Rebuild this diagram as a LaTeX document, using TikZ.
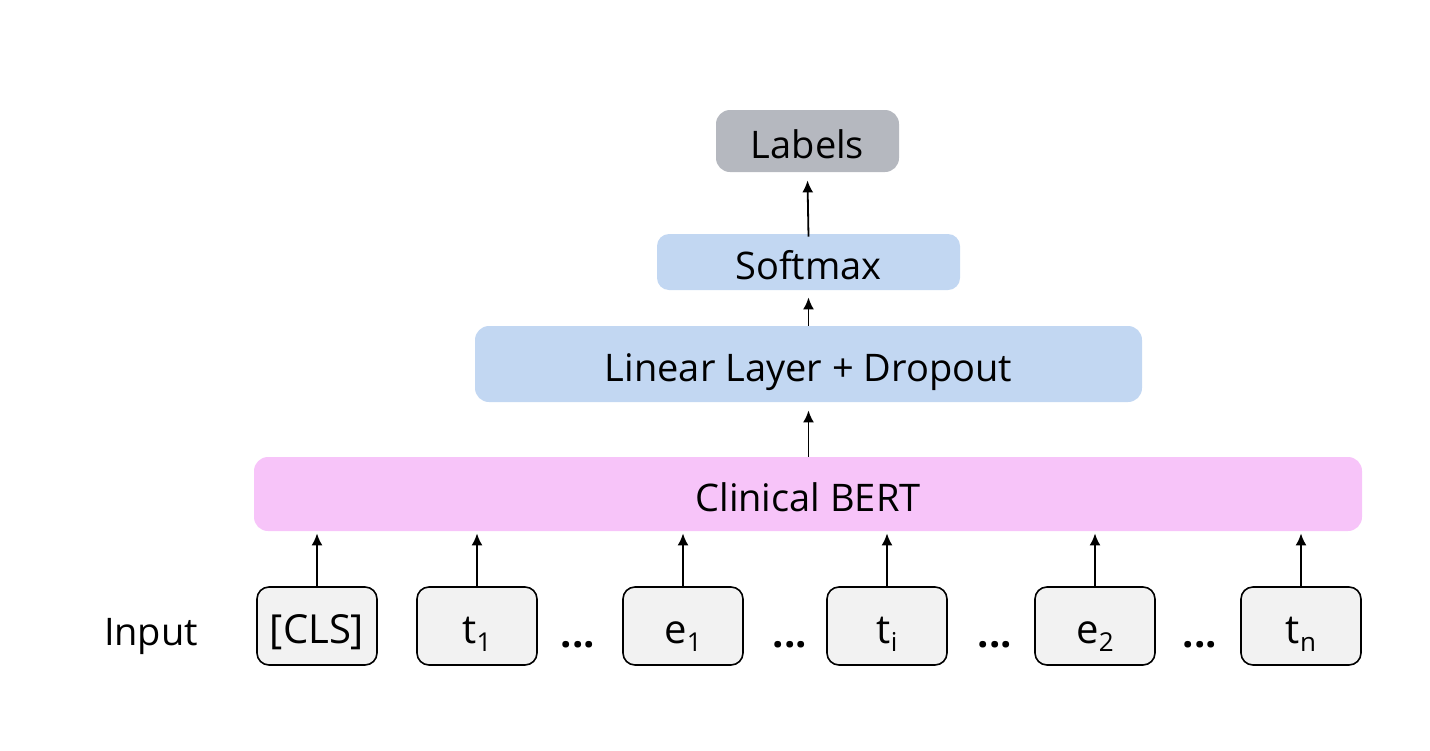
\documentclass[tikz,border=0pt]{standalone}
\usepackage{fontspec}
\setmainfont{Open Sans}
\usepackage{tikz}
\usetikzlibrary{arrows.meta}
\definecolor{labelgray}{HTML}{B5B8BF}
\definecolor{layerblue}{HTML}{C2D7F2}
\definecolor{bertpink}{HTML}{F7C4F9}
\definecolor{tokfill}{HTML}{F2F2F2}
\tikzstyle{layer} = [rounded corners=7pt,inner sep=0pt,text height=18pt,text depth=0.4pt,
    font=\fontsize{19}{23}\selectfont]
\tikzstyle{tokbox} = [layer,draw=black,line width=0.8pt,fill=tokfill,rounded corners=6pt,
    minimum width=60pt,minimum height=39pt,font=\fontsize{20}{24}\selectfont]
\tikzstyle{flow} = [-{Latex[length=6pt,width=5.5pt]},line width=0.9pt]
\newcommand{\tokdots}[2]{
    \node(#1) at (#2,645) [font=\fontsize{20}{24}\selectfont\bfseries] {...};
}
\newcommand{\toksub}[2]{#1\raisebox{-4pt}{\fontsize{13}{15}\selectfont #2}}

\begin{document}
\begin{tikzpicture}[x=0.5pt,y=-0.5pt]
    \useasboundingbox (0,0) rectangle (1430,750);

	\node(labels) at (807.5,141) [layer,fill=labelgray,minimum width=91.5pt,minimum height=31pt] {Labels};
	\node(softmax) at (808.5,262) [layer,fill=layerblue,rounded corners=6pt,minimum width=151.5pt,minimum height=28pt] {Softmax};
	\node(linear) at (808.5,364) [layer,fill=layerblue,minimum width=333.5pt,minimum height=38pt] {Linear Layer + Dropout};
	\node(bert) at (808,494) [layer,fill=bertpink,minimum width=554pt,minimum height=37pt] {Clinical BERT};

	\node(input) at (151,628) [layer] {Input};
	\node(cls) at (317,626) [tokbox] {[CLS]};
	\node(t1) at (477,626) [tokbox] {\toksub{t}{1}};
	\node(e1) at (683,626) [tokbox] {\toksub{e}{1}};
	\node(ti) at (887,626) [tokbox] {\toksub{t}{i}};
	\node(e2) at (1095,626) [tokbox] {\toksub{e}{2}};
	\node(tn) at (1301,626) [tokbox] {\toksub{t}{n}};

	\tokdots{dotsa}{578}
	\tokdots{dotsb}{790}
	\tokdots{dotsc}{995}
	\tokdots{dotsd}{1200}

	\foreach \tok in {cls,t1,e1,ti,e2,tn}
	    \draw[flow] (\tok.north) -- ([yshift=-1pt]\tok |- bert.south);
	\draw[flow] (bert.north -| linear.south) -- ([yshift=-4pt]linear.south);
	\draw[flow] (linear.north) -- ([yshift=-3.5pt]softmax.south);
	\draw[flow] ([yshift=-1.5pt]softmax.north) -- ([yshift=-4pt]labels.south);
\end{tikzpicture}
\end{document}
